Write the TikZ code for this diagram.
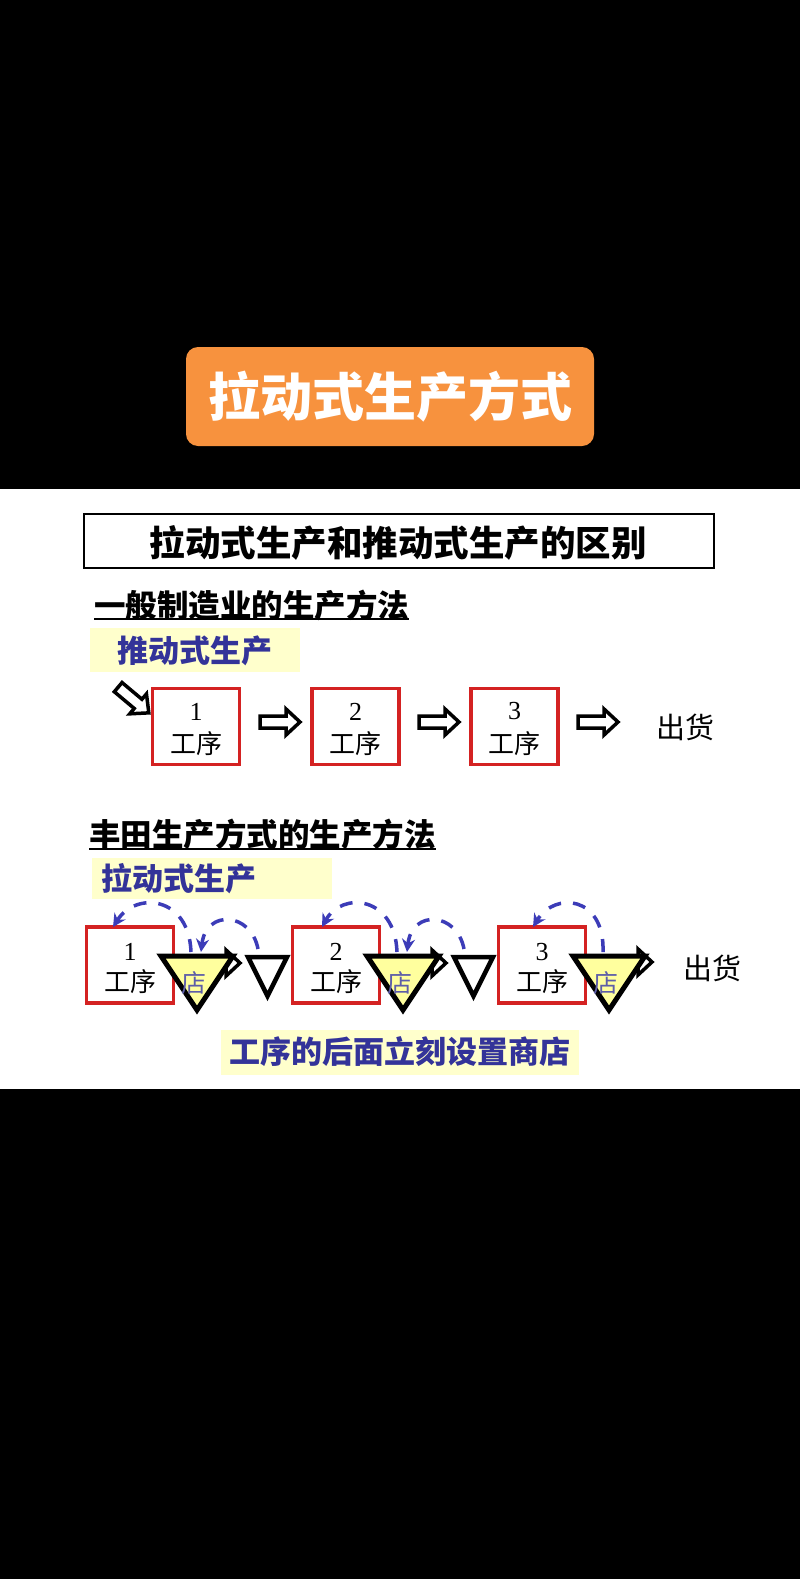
\documentclass[tikz,border=0pt]{standalone}
\usepackage{fontspec}
\setmainfont{Liberation Serif}
\newfontfamily\cjk{Noto Sans CJK SC}
\newfontfamily\cjkblack{Noto Sans CJK SC Black}
\usetikzlibrary{arrows.meta,calc}
\definecolor{orangeT}{HTML}{F7923E}
\definecolor{boxred}{HTML}{D42222}
\definecolor{ltyel}{HTML}{FFFFCC}
\definecolor{triyel}{HTML}{FFFF9E}
\definecolor{txtblue}{HTML}{333399}
\definecolor{arcblue}{HTML}{3C3CB8}
\definecolor{shopblue}{HTML}{5E5EA8}
\tikzset{
  procbox/.style={draw=boxred,line width=3.5pt,fill=white,minimum width=87pt,minimum height=76pt,inner sep=0pt},
  hdr/.style={anchor=west,inner sep=0pt,font=\cjk\bfseries\fontsize{31.5}{31.5}\selectfont},
  lbl/.style={inner sep=0pt,font=\cjk\bfseries\fontsize{31}{31}\selectfont,text=txtblue},
  numtxt/.style={inner sep=0pt,font=\fontsize{26}{26}\selectfont},
  cjktxt/.style={inner sep=0pt,font=\cjk\fontsize{26}{26}\selectfont},
  shiptxt/.style={inner sep=0pt,font=\cjk\fontsize{29}{29}\selectfont},
  shoptxt/.style={inner sep=0pt,font=\cjk\fontsize{25}{25}\selectfont,text=shopblue},
  tri/.style={draw=black,line width=5pt,line join=miter,fill=triyel},
  etri/.style={draw=black,line width=4.5pt,line join=miter,fill=white},
  kanban/.style={draw=arcblue,line width=3.5pt,dash pattern=on 13pt off 12pt,-{Stealth[length=13pt,width=13pt]}},
  blockarrow/.pic={\draw[line width=3.5pt,fill=white,line join=miter]
     (-20,-6) -- (6,-6) -- (6,-13) -- (20,0) -- (6,13) -- (6,6) -- (-20,6) -- cycle;}
}
\begin{document}
\begin{tikzpicture}[x=1pt,y=-1pt]
\useasboundingbox (0,0) rectangle (800,1579);
\fill[black] (0,0) rectangle (800,1579);
\fill[white] (0,489) rectangle (800,1089);

% orange title
\node[fill=orangeT,rounded corners=12pt,minimum width=408pt,minimum height=99pt,inner sep=0pt] (otitle) at (390,396.5) {};
\node[inner sep=0pt,text=white,font=\cjkblack\fontsize{52}{52}\selectfont] (otext) at (390,397) {拉动式生产方式};

% title box
\node[draw=black,line width=2pt,minimum width=630pt,minimum height=54pt,inner sep=0pt] (tbox) at (399,541) {};
\node[inner sep=0pt,font=\cjk\bfseries\fontsize{35.5}{35.5}\selectfont] (ttext) at (398,543) {拉动式生产和推动式生产的区别};

% section 1
\node[hdr] (h1) at (94,605) {一般制造业的生产方法};
\draw[line width=2pt] ($(h1.west)+(0,14)$) -- ($(h1.east)+(0,14)$);
\node[fill=ltyel,minimum width=210pt,minimum height=44pt,inner sep=0pt] (y1) at (195,650) {};
\node[lbl,anchor=west] (y1t) at (117,651) {推动式生产};

% push row
\node[procbox] (p1) at (196,726.5) {};
\node[procbox] (p2) at (355.5,726.5) {};
\node[procbox] (p3) at (514.5,726.5) {};
\foreach \n/\d in {p1/1,p2/2,p3/3}{
  \node[numtxt] (\n num) at ($(\n.center)+(0,-15)$) {\d};
  \node[cjktxt] (\n txt) at ($(\n.center)+(0,17)$) {工序};
}
\node[shiptxt] (ship1) at (685,727) {出货};
\pic at (133.5,700) [rotate=-40] {blockarrow};
\pic at (280,722) {blockarrow};
\pic at (439,722) {blockarrow};
\pic at (598,722) {blockarrow};

% section 2
\node[hdr] (h2) at (89,834) {丰田生产方式的生产方法};
\draw[line width=2pt] ($(h2.west)+(0,15)$) -- ($(h2.east)+(0,15)$);
\node[fill=ltyel,minimum width=240pt,minimum height=41pt,inner sep=0pt] (y2) at (212,878.5) {};
\node[lbl,anchor=west] (y2t) at (101,879) {拉动式生产};

% pull row boxes
\node[procbox] (q1) at (130,965) {};
\node[procbox] (q2) at (336,965) {};
\node[procbox] (q3) at (542,965) {};
\foreach \n/\d in {q1/1,q2/2,q3/3}{
  \node[numtxt] (\n num) at ($(\n.center)+(0,-13)$) {\d};
  \node[cjktxt] (\n txt) at ($(\n.center)+(0,17)$) {工序};
}

% small arrows behind shops
\pic at (220,963) {blockarrow};
\pic at (426,963) {blockarrow};
\pic at (632,962) {blockarrow};

% shops (yellow triangles)
\foreach \k/\x in {1/161,2/367,3/573}{
  \draw[tri] (\x,956) -- (\x+72,956) -- (\x+36,1010) -- cycle;
  \coordinate (s\k top) at (\x+30,952);
  \node[shoptxt] (s\k) at (\x+33,983) {店};
}
% empty triangles
\foreach \k/\x in {1/248,2/454}{
  \draw[etri] (\x,957) -- (\x+39,957) -- (\x+19.5,996) -- cycle;
  \coordinate (e\k top) at (\x+10,949);
}
\node[shiptxt] (ship2) at (712,968) {出货};

% kanban loops
\coordinate (q1in) at (113,927);
\coordinate (q2in) at (322,927);
\coordinate (q3in) at (533,927);
\coordinate (s1in) at (201,952);
\coordinate (s2in) at (407,952);
\draw[kanban] (s1top) .. controls (189,896) and (136,891) .. (q1in);
\draw[kanban] (s2top) .. controls (395,896) and (342,891) .. (q2in);
\draw[kanban] (s3top) .. controls (605,896) and (555,891) .. (q3in);
\draw[kanban] (e1top) .. controls (251,912) and (206,909) .. (s1in);
\draw[kanban] (e2top) .. controls (457,912) and (412,909) .. (s2in);

% bottom label
\node[fill=ltyel,minimum width=358pt,minimum height=45pt,inner sep=0pt] (y3) at (400,1052) {};
\node[lbl] (y3t) at (400,1052) {工序的后面立刻设置商店};
\end{tikzpicture}
\end{document}
